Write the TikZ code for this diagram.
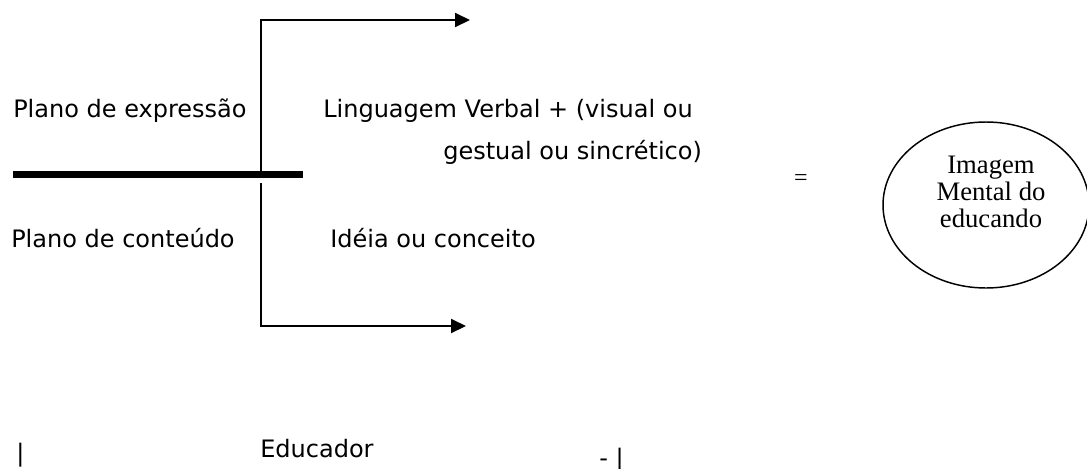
\documentclass[tikz,border=0pt]{standalone}
\usepackage{fontspec}
\setmainfont{DejaVu Sans}
\newfontfamily\ellfont{Liberation Serif}
\usetikzlibrary{arrows.meta,shapes.geometric}
\begin{document}
\begin{tikzpicture}[x=0.75pt,y=-0.75pt,
  lbl/.style={anchor=base west,inner sep=0pt,font=\fontsize{18}{21}\selectfont},
  thin/.style={line width=1.5pt},
  thick/.style={line width=5.25pt},
  arr/.style={thin,-{Triangle[length=11.25pt,width=10.5pt]}},
  ellshape/.style={ellipse,draw,line width=1.1pt,minimum width=154.5pt,minimum height=124.5pt,inner sep=0pt},
  elltxt/.style={align=center,inner sep=0pt,font=\ellfont\fontsize{20}{20}\selectfont}]
\useasboundingbox (0,0) rectangle (1087,468);
\fill[white] (0,0) rectangle (1087,468);
% coordinates
\coordinate (hl) at (13,174.5);
\coordinate (hr) at (303,174.5);
\coordinate (vt0) at (261,175);
\coordinate (vt1) at (261,20);
\coordinate (at) at (470,20);
\coordinate (vb0) at (261,183);
\coordinate (vb1) at (261,326);
\coordinate (ab) at (466,326);
% lines
\draw[thick] (hl) -- (hr);
\draw[arr] (vt0) -- (vt1) -- (at);
\draw[arr] (vb0) -- (vb1) -- (ab);
% labels
\node[lbl] (pe) at (13,117) {Plano de expressão};
\node[lbl] (pc) at (11,247) {Plano de conteúdo};
\node[lbl] (lv) at (323,117) {Linguagem Verbal + (visual ou};
\node[lbl] (gs) at (443,159) {gestual ou sincrético)};
\node[lbl] (id) at (330,247) {Idéia ou conceito};
\node[inner sep=0pt,font=\ellfont\fontsize{18}{18}\selectfont] (eq) at (801,180) {=};
% ellipse
\node[ellshape] (ell) at (986,205) {};
\node[elltxt,anchor=base] (et) at (991,227) {Imagem\\Mental do\\educando};
% bottom
\node[lbl] (b1) at (16,461) {|};
\node[lbl] (educ) at (260,457) {Educador};
\node[lbl] (b2) at (599,466) {- |};
\end{tikzpicture}
\end{document}
